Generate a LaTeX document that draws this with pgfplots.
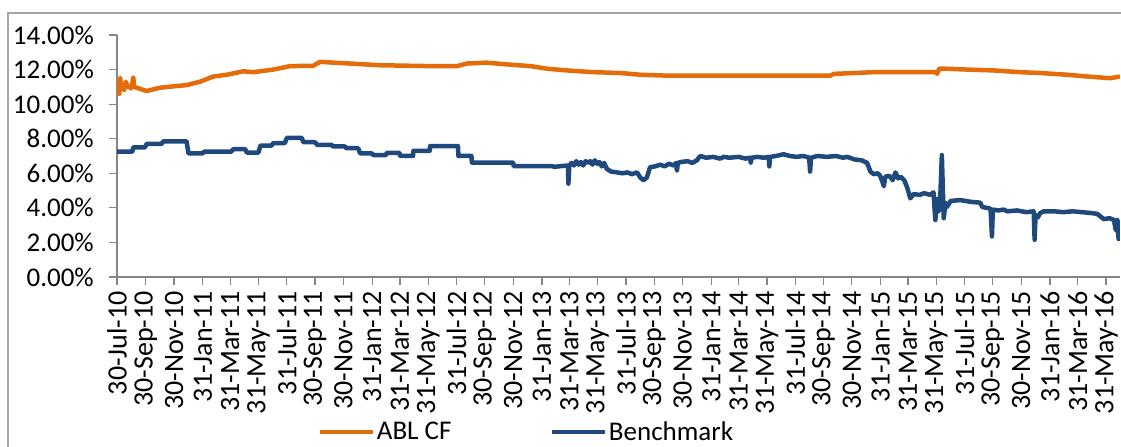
\documentclass[border=0pt]{standalone}
\usepackage{fontspec}
\setmainfont{Carlito}
\usepackage{pgfplots}
\pgfplotsset{compat=1.18}
\definecolor{ablorange}{HTML}{E46C0A}
\definecolor{benchblue}{HTML}{1F497D}
\definecolor{axisgray}{HTML}{868686}
\definecolor{framegray}{HTML}{A6A6A6}
\begin{document}
\begin{tikzpicture}[font=\fontsize{27bp}{32bp}\selectfont]
\useasboundingbox (0,0) rectangle (1121bp,447bp);
\draw[framegray, line width=2bp] (8bp,-20bp) -- (8bp,434bp) -- (1140bp,434bp);
\begin{axis}[
  at={(117bp,170bp)}, anchor=south west,
  scale only axis, width=1003bp, height=242bp,
  xmin=0, xmax=2162, ymin=0, ymax=14,
  axis x line=bottom, axis y line=left,
  axis line style={axisgray, line width=1.2bp, -},
  tick style={axisgray, line width=1.2bp},
  major tick length=8bp, tick align=outside,
  ytick={0,2,4,6,8,10,12,14},
  yticklabels={0.00\%,2.00\%,4.00\%,6.00\%,8.00\%,10.00\%,12.00\%,14.00\%},
  xtick={0,62,123,185,244,305,366,427,488,550,610,671,732,793,854,916,975,1036,1097,1158,1219,1281,1340,1401,1462,1523,1584,1646,1705,1766,1827,1888,1949,2011,2071,2132},
  xticklabels={30-Jul-10,30-Sep-10,30-Nov-10,31-Jan-11,31-Mar-11,31-May-11,31-Jul-11,30-Sep-11,30-Nov-11,31-Jan-12,31-Mar-12,31-May-12,31-Jul-12,30-Sep-12,30-Nov-12,31-Jan-13,31-Mar-13,31-May-13,31-Jul-13,30-Sep-13,30-Nov-13,31-Jan-14,31-Mar-14,31-May-14,31-Jul-14,30-Sep-14,30-Nov-14,31-Jan-15,31-Mar-15,31-May-15,31-Jul-15,30-Sep-15,30-Nov-15,31-Jan-16,31-Mar-16,31-May-16},
  x tick label style={rotate=90, anchor=east, inner sep=0pt, font=\fontsize{28bp}{32bp}\selectfont},
  xticklabel shift=6bp,
  y tick label style={anchor=east, inner sep=0pt},
  yticklabel shift=15bp,
  legend style={at={(axis description cs:0.408,-0.640)}, anchor=center, draw=none, fill=none,
    legend columns=2, /tikz/every even column/.append style={column sep=96bp}},
  legend image code/.code={\draw[#1, line width=4.5bp] (0bp,0bp) -- (53bp,0bp);},
]
\addplot[ablorange, line width=4.5bp, line join=round, no markers] table {
0 10.55
3 11.3
5 10.6
7 11.5
9 10.9
12 11.1
15 10.8
19 11.3
23 11.0
27 11.0
30 10.9
33 11.2
35 11.55
37 11.0
42 10.95
64 10.76
93 10.95
129 11.05
150 11.1
179 11.3
208 11.6
237 11.7
272 11.9
294 11.85
337 12.0
373 12.2
423 12.22
438 12.45
466 12.4
502 12.35
567 12.25
675 12.2
733 12.2
754 12.35
797 12.4
840 12.3
891 12.2
927 12.05
970 11.95
1027 11.85
1085 11.8
1128 11.7
1185 11.65
1430 11.65
1538 11.65
1545 11.75
1631 11.85
1766 11.85
1768 11.75
1772 12.05
1786 12.05
1832 12.0
1890 11.95
1947 11.85
1990 11.8
2048 11.7
2091 11.6
2141 11.5
2162 11.6
};
\addlegendentry{ABL CF}
\addplot[benchblue, line width=4.5bp, line join=round, no markers] table {
0 7.25
33 7.25
35 7.5
60 7.5
64 7.7
96 7.7
100 7.85
150 7.85
154 7.15
185 7.15
187 7.25
246 7.25
251 7.4
276 7.4
280 7.2
305 7.2
309 7.6
333 7.6
337 7.75
362 7.75
366 8.05
398 8.05
402 7.8
427 7.8
431 7.65
462 7.65
466 7.55
491 7.55
495 7.45
520 7.45
524 7.15
549 7.15
553 7.05
580 7.05
581 7.18
609 7.18
610 7.0
638 7.0
639 7.3
674 7.3
675 7.57
735 7.57
736 7.0
764 7.0
765 6.62
854 6.62
855 6.41
940 6.41
941 6.37
970 6.45
972 6.45
973 5.4
975 6.45
980 6.6
985 6.45
990 6.7
995 6.5
1000 6.65
1005 6.45
1010 6.7
1015 6.6
1020 6.7
1025 6.5
1030 6.75
1035 6.55
1040 6.65
1045 6.4
1050 6.6
1056 6.25
1065 6.1
1078 6.05
1090 6.0
1100 6.05
1110 5.95
1121 6.05
1128 5.75
1135 5.6
1142 5.75
1149 6.35
1160 6.4
1171 6.5
1180 6.4
1190 6.55
1200 6.45
1205 6.6
1207 6.15
1209 6.6
1215 6.65
1230 6.7
1240 6.6
1250 6.75
1257 7.0
1270 6.9
1285 6.95
1300 6.85
1308 6.95
1320 6.9
1340 6.95
1355 6.85
1365 6.9
1366 6.6
1368 6.9
1380 6.95
1395 6.9
1405 6.95
1406 6.4
1408 6.95
1420 7.0
1437 7.1
1450 7.0
1465 6.95
1480 7.0
1492 6.9
1494 6.1
1496 6.9
1510 7.0
1530 6.95
1550 7.0
1565 6.9
1574 6.95
1590 6.8
1605 6.75
1617 6.6
1624 6.1
1631 5.95
1640 6.0
1645 5.85
1650 5.5
1653 5.25
1656 5.8
1665 5.85
1672 5.6
1678 6.05
1684 5.7
1689 5.8
1697 5.6
1703 5.2
1710 4.55
1717 4.8
1730 4.75
1740 4.85
1753 4.75
1760 4.9
1764 3.3
1768 4.5
1771 3.8
1775 4.9
1778 7.05
1782 3.4
1786 4.3
1789 4.05
1797 4.4
1818 4.45
1840 4.35
1861 4.3
1865 4.05
1875 4.0
1883 3.95
1886 2.35
1888 3.9
1900 3.85
1911 3.9
1919 3.8
1940 3.85
1960 3.75
1976 3.8
1978 2.15
1980 3.6
1985 3.45
1990 3.7
1998 3.8
2020 3.8
2040 3.75
2060 3.8
2080 3.75
2100 3.7
2113 3.65
2120 3.5
2127 3.35
2140 3.4
2149 3.3
2153 2.7
2156 3.3
2159 2.2
2162 3.3
};
\addlegendentry{Benchmark}
\end{axis}
\end{tikzpicture}
\end{document}
